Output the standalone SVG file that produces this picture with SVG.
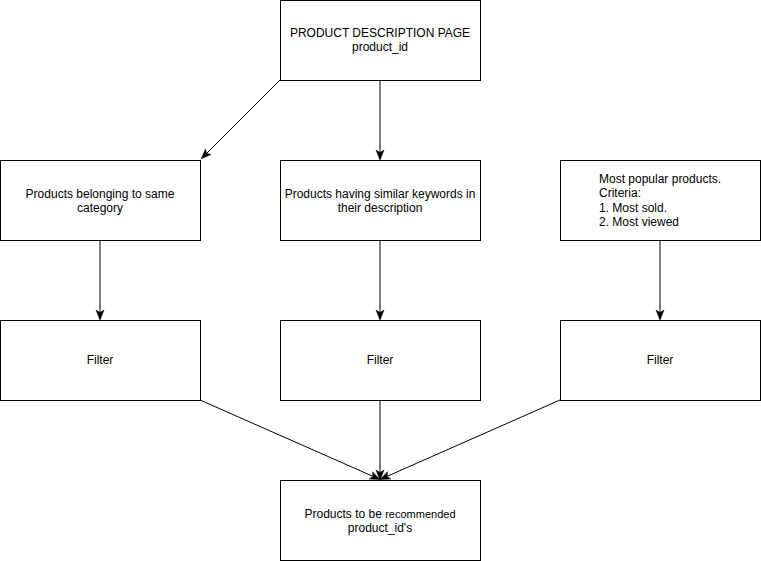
<svg xmlns="http://www.w3.org/2000/svg" width="761" height="561" viewBox="0 0 761 561">
<defs>
<style>
.box{fill:#fff;stroke:#000;stroke-width:1}
.t{font-family:"Liberation Sans",Arial,sans-serif;font-size:12px;fill:#000;text-anchor:middle}
.tl{font-family:"Liberation Sans",Arial,sans-serif;font-size:12px;fill:#000}
.e{fill:none;stroke:#000;stroke-width:1}
</style>
<marker id="ah" viewBox="0 0 10 10" refX="9" refY="5" markerWidth="10" markerHeight="10" markerUnits="userSpaceOnUse" orient="auto">
<path d="M0,1 L10,5 L0,9 L2.5,5 Z" fill="#000" stroke="#000" stroke-width="0.5"/>
</marker>
</defs>
<rect width="761" height="561" fill="#fff"/>
<g id="connectors">
<line class="e" x1="280" y1="80" x2="202" y2="158" marker-end="url(#ah)"/>
<line class="e" x1="380" y1="80" x2="380" y2="159" marker-end="url(#ah)"/>
<line class="e" x1="100" y1="240" x2="100" y2="319" marker-end="url(#ah)"/>
<line class="e" x1="380" y1="240" x2="380" y2="319" marker-end="url(#ah)"/>
<line class="e" x1="660" y1="240" x2="660" y2="319" marker-end="url(#ah)"/>
<line class="e" x1="200" y1="400" x2="379" y2="479" marker-end="url(#ah)"/>
<line class="e" x1="380" y1="400" x2="380" y2="479" marker-end="url(#ah)"/>
<line class="e" x1="560" y1="400" x2="381" y2="479" marker-end="url(#ah)"/>
</g>
<g id="pdp">
<rect class="box" x="280.5" y="0.5" width="200" height="80"/>
<text class="t" x="380" y="37">PRODUCT DESCRIPTION PAGE</text>
<text class="t" x="380" y="51">product_id</text>
</g>
<g id="category">
<rect class="box" x="0.5" y="160.5" width="200" height="80"/>
<text class="t" x="100" y="198">Products belonging to same</text>
<text class="t" x="100" y="212">category</text>
</g>
<g id="keywords">
<rect class="box" x="280.5" y="160.5" width="200" height="80"/>
<text class="t" x="380" y="198">Products having similar keywords in</text>
<text class="t" x="380" y="212">their description</text>
</g>
<g id="popular">
<rect class="box" x="560.5" y="160.5" width="200" height="80"/>
<text class="tl" x="599" y="183">Most popular products.</text>
<text class="tl" x="599" y="197">Criteria:</text>
<text class="tl" x="599" y="212">1. Most sold.</text>
<text class="tl" x="599" y="226">2. Most viewed</text>
</g>
<g id="filter1">
<rect class="box" x="0.5" y="320.5" width="200" height="80"/>
<text class="t" x="100" y="364">Filter</text>
</g>
<g id="filter2">
<rect class="box" x="280.5" y="320.5" width="200" height="80"/>
<text class="t" x="380" y="364">Filter</text>
</g>
<g id="filter3">
<rect class="box" x="560.5" y="320.5" width="200" height="80"/>
<text class="t" x="660" y="364">Filter</text>
</g>
<g id="recommended">
<rect class="box" x="280.5" y="480.5" width="200" height="80"/>
<text class="t" x="380" y="518">Products to be <tspan font-size="11px">recommended</tspan></text>
<text class="t" x="380" y="532">product_id's</text>
</g>
</svg>
